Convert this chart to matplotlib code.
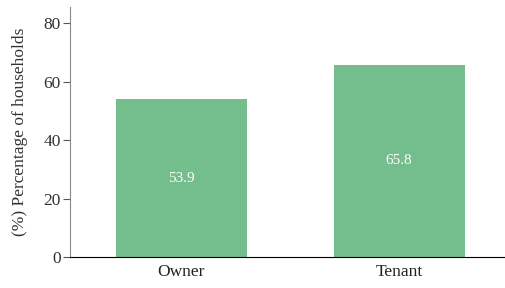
import matplotlib
matplotlib.use("Agg")
import matplotlib.pyplot as plt

categories = ["Owner", "Tenant"]
values = [53.9, 65.8]
yticks = [0, 20, 40, 60, 80]

plt.rcParams['font.family'] = ['Liberation Serif', 'DejaVu Serif']

fig = plt.figure(figsize=(5.06, 2.88), dpi=100)
ax = fig.add_axes([70/506, 1-257/288, 436/506, 250/288])
x = list(range(len(categories)))
bars = ax.bar(x, values, width=0.6, color="#74bd8c")
for xi, v in zip(x, values):
    ax.text(xi, v/2, f"{v}", ha="center", va="center", color="white", fontsize=11)
ax.set_xlim(-0.51, 1.49)
ax.set_ylim(0, 85.5)
ax.set_yticks(yticks)
ax.set_xticks(x)
ax.set_xticklabels(categories, fontsize=12.5)
ax.tick_params(axis='y', labelsize=12.5, length=5, pad=1.5, color='#555555', labelcolor='#333333')
ax.tick_params(axis='x', length=0, pad=5, labelcolor='#222222')
ax.spines['top'].set_visible(False)
ax.spines['right'].set_visible(False)
ax.spines['left'].set_color('#888888')
ax.set_ylabel("(%) Percentage of households", fontsize=12.5, labelpad=11, color='#333333')
fig.savefig("out.png", dpi=100)
